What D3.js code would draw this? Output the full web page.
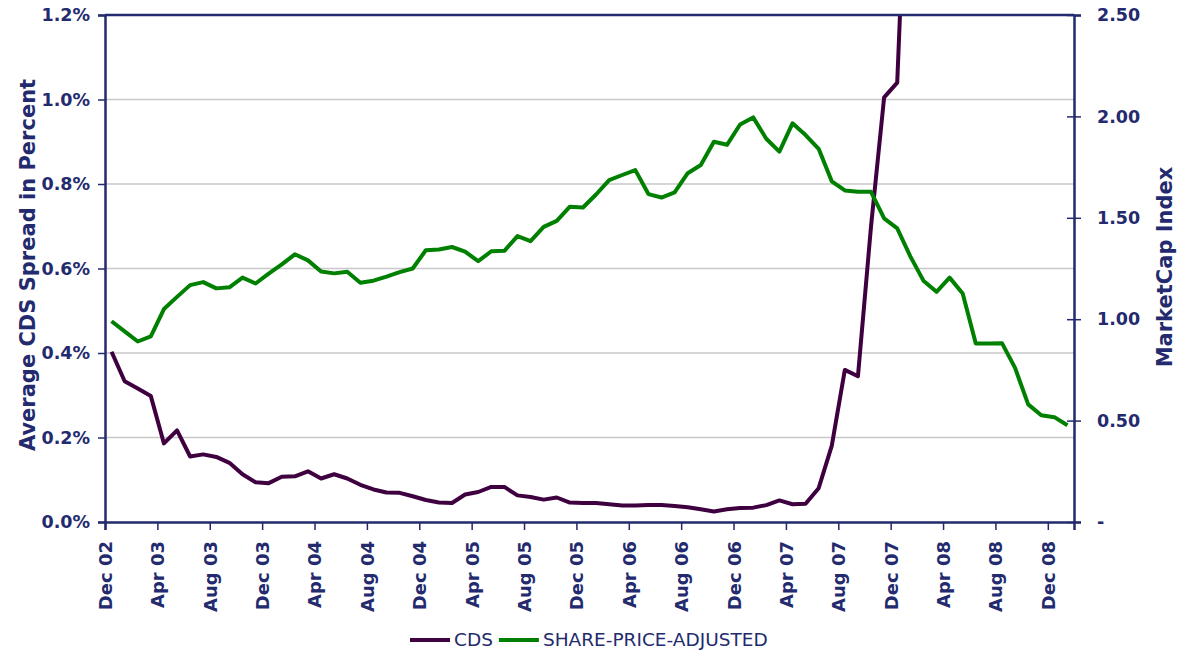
<!DOCTYPE html>
<html>
<head>
<meta charset="utf-8">
<script src="https://cdn.jsdelivr.net/npm/d3@7"></script>
<style>
  body { margin: 0; background: #fff; }
  text { font-family: "DejaVu Sans", sans-serif; }
</style>
</head>
<body>
<div id="chart"></div>
<script>
// Month labels every 4 months (index into monthly series, Dec 02 = 0)
const tickLabels = ["Dec 02", "Apr 03", "Aug 03", "Dec 03", "Apr 04", "Aug 04", "Dec 04",
  "Apr 05", "Aug 05", "Dec 05", "Apr 06", "Aug 06", "Dec 06", "Apr 07", "Aug 07",
  "Dec 07", "Apr 08", "Aug 08", "Dec 08"];
const monthCount = 74; // Dec 02 .. Jan 09

// Average CDS spread in percent (left axis), monthly from Dec 02
const cdsValues = [0.403, 0.333, 0.316, 0.298, 0.186, 0.217, 0.155, 0.16, 0.154, 0.14,
  0.113, 0.094, 0.092, 0.107, 0.108, 0.12, 0.103, 0.113, 0.103, 0.088,
  0.077, 0.07, 0.069, 0.061, 0.052, 0.046, 0.045, 0.065, 0.071, 0.083,
  0.083, 0.063, 0.059, 0.053, 0.058, 0.046, 0.045, 0.045, 0.042, 0.039,
  0.039, 0.04, 0.04, 0.038, 0.035, 0.03, 0.025, 0.03, 0.033, 0.034,
  0.04, 0.051, 0.042, 0.043, 0.08, 0.18, 0.36, 0.345, 0.70, 1.005,
  1.04, 1.8];

// Share-price-adjusted market cap index (right axis), monthly from Dec 02
const shareValues = [0.99, 0.94, 0.89, 0.915, 1.05, 1.11, 1.168, 1.183, 1.152, 1.157,
  1.205, 1.176, 1.225, 1.27, 1.32, 1.29, 1.235, 1.226, 1.234, 1.18,
  1.19, 1.21, 1.232, 1.25, 1.34, 1.344, 1.356, 1.333, 1.286, 1.335,
  1.337, 1.41, 1.385, 1.455, 1.485, 1.555, 1.551, 1.615, 1.686, 1.711,
  1.735, 1.617, 1.6, 1.625, 1.72, 1.76, 1.875, 1.86, 1.96, 1.995,
  1.89, 1.826, 1.966, 1.908, 1.84, 1.68, 1.635, 1.628, 1.628, 1.497,
  1.448, 1.31, 1.19, 1.135, 1.205, 1.127, 0.88, 0.88, 0.882, 0.76,
  0.58, 0.526, 0.517, 0.477];

const leftTicks = [0, 0.2, 0.4, 0.6, 0.8, 1.0, 1.2];
const rightTicks = [0, 0.5, 1.0, 1.5, 2.0, 2.5];

const width = 1188, height = 657;
const margin = { top: 15, bottom: 135, left: 105, right: 114 };
const navy = "#232a6e";

const svg = d3.select("#chart").append("svg")
  .attr("width", width)
  .attr("height", height);

const x = d3.scaleLinear()
  .domain([0, monthCount])
  .range([margin.left, width - margin.right]);

const yLeft = d3.scaleLinear()
  .domain([0, 1.2])
  .range([height - margin.bottom, margin.top]);

const yRight = d3.scaleLinear()
  .domain([0, 2.5])
  .range([height - margin.bottom, margin.top]);

// Gridlines
svg.append("g")
  .selectAll("line")
  .data(leftTicks.slice(1, -1))
  .join("line")
  .attr("x1", margin.left)
  .attr("x2", width - margin.right)
  .attr("y1", d => yLeft(d))
  .attr("y2", d => yLeft(d))
  .attr("stroke", "#c8c8c8")
  .attr("stroke-width", 1.5);

// Clip for lines
svg.append("clipPath").attr("id", "plot")
  .append("rect")
  .attr("x", margin.left)
  .attr("y", margin.top)
  .attr("width", width - margin.right - margin.left)
  .attr("height", height - margin.bottom - margin.top);

const cdsLine = d3.line()
  .x((d, i) => x(i + 0.5))
  .y(d => yLeft(d));

const shareLine = d3.line()
  .x((d, i) => x(i + 0.5))
  .y(d => yRight(d));

const lines = svg.append("g").attr("clip-path", "url(#plot)");

lines.append("path")
  .datum(cdsValues)
  .attr("fill", "none")
  .attr("stroke", "#3f0040")
  .attr("stroke-width", 4)
  .attr("stroke-linejoin", "round")
  .attr("d", cdsLine);

lines.append("path")
  .datum(shareValues)
  .attr("fill", "none")
  .attr("stroke", "#008000")
  .attr("stroke-width", 4)
  .attr("stroke-linejoin", "round")
  .attr("d", shareLine);

// Left axis
const leftAxis = svg.append("g")
  .attr("transform", `translate(${margin.left},0)`)
  .call(d3.axisLeft(yLeft).tickValues(leftTicks).tickSize(7).tickPadding(8)
    .tickFormat(d => d.toFixed(1) + "%"));

// Right axis
const rightAxis = svg.append("g")
  .attr("transform", `translate(${width - margin.right},0)`)
  .call(d3.axisRight(yRight).tickValues(rightTicks).tickSize(7).tickPadding(16)
    .tickFormat(d => d === 0 ? "-" : d.toFixed(2)));
rightAxis.selectAll(".tick line").attr("x1", -7);

// Bottom axis
const bottomAxis = svg.append("g")
  .attr("transform", `translate(0,${height - margin.bottom})`)
  .call(d3.axisBottom(x).tickValues(d3.range(0, monthCount, 4)).tickSize(8)
    .tickFormat((d, i) => tickLabels[i]));

// Top border
svg.append("line")
  .attr("x1", margin.left)
  .attr("x2", width - margin.right)
  .attr("y1", margin.top)
  .attr("y2", margin.top)
  .attr("stroke", navy)
  .attr("stroke-width", 2.5);

[leftAxis, rightAxis, bottomAxis].forEach(g => {
  g.select(".domain").attr("stroke", navy).attr("stroke-width", 2.5);
  g.selectAll(".tick line").attr("stroke", navy).attr("stroke-width", 1.5);
  g.selectAll("text")
    .attr("fill", navy)
    .style("font-size", "17.5px")
    .style("font-weight", "bold")
    .style("font-family", "DejaVu Sans, sans-serif");
});

bottomAxis.selectAll("text")
  .attr("transform", "rotate(-90)")
  .attr("x", -19)
  .attr("y", 0)
  .attr("dy", "0.36em")
  .style("text-anchor", "end")
  .style("font-size", "18px");

// Axis titles
svg.append("text")
  .attr("transform", "rotate(-90)")
  .attr("x", -265)
  .attr("y", 28)
  .attr("dy", "0.35em")
  .attr("text-anchor", "middle")
  .attr("fill", navy)
  .style("font-size", "21px")
  .style("font-weight", "bold")
  .text("Average CDS Spread in Percent");

svg.append("text")
  .attr("transform", "rotate(-90)")
  .attr("x", -267)
  .attr("y", 1165)
  .attr("dy", "0.35em")
  .attr("text-anchor", "middle")
  .attr("fill", navy)
  .style("font-size", "21px")
  .style("font-weight", "bold")
  .text("MarketCap Index");

// Legend
const legendItems = [
  { name: "CDS", color: "#3f0040" },
  { name: "SHARE-PRICE-ADJUSTED", color: "#008000" }
];
const legend = svg.append("g").attr("transform", "translate(410,640)");
let lx = 0;
legendItems.forEach(item => {
  legend.append("line")
    .attr("x1", lx).attr("x2", lx + 40)
    .attr("y1", 0).attr("y2", 0)
    .attr("stroke", item.color)
    .attr("stroke-width", 4);
  const t = legend.append("text")
    .attr("x", lx + 44)
    .attr("y", 0)
    .attr("dy", "0.35em")
    .attr("fill", navy)
    .style("font-size", "18.5px")
    .text(item.name);
  lx += 44 + t.node().getComputedTextLength() + 6;
});
</script>
</body>
</html>
